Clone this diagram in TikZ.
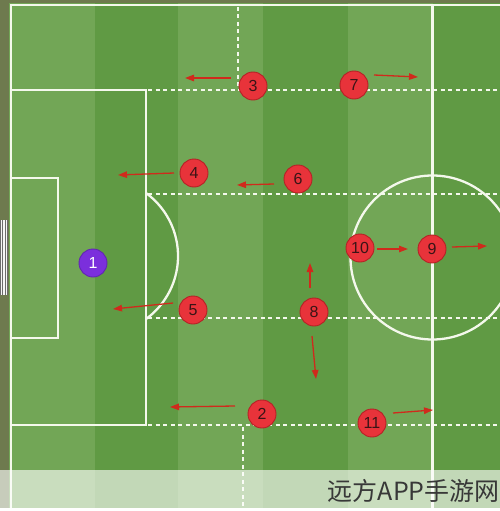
\documentclass[tikz,border=0pt]{standalone}
\usepackage{fontspec}
\setsansfont{Liberation Sans}
\newfontfamily\cjk{Noto Sans CJK SC}
\usetikzlibrary{arrows.meta}
\definecolor{olive}{HTML}{6E7A4E}
\definecolor{lightg}{HTML}{72A656}
\definecolor{darkg}{HTML}{609A44}
\definecolor{pred}{HTML}{E8333A}
\definecolor{pdark}{HTML}{B52226}
\definecolor{ptext}{HTML}{3A1416}
\definecolor{ppurple}{HTML}{7B2FDC}
\definecolor{arrred}{HTML}{D02A1C}
\definecolor{linew}{HTML}{F4F8EC}
\definecolor{wmgray}{HTML}{383838}
\tikzset{
  pitchline/.style={draw=linew, line width=2.3pt},
  dashline/.style={draw=linew, line width=1.4pt, dash pattern=on 4pt off 3.5pt},
  player/.style={circle, fill=pred, draw=pdark, line width=0.9pt, minimum size=28pt,
    inner sep=0pt, text=ptext, font=\sffamily\fontsize{16}{16}\selectfont},
  keeper/.style={player, fill=ppurple, draw=ppurple!80!black, text=white},
  run/.style={draw=arrred, line width=1.3pt, -{Triangle[length=9pt,width=6.5pt]}},
}
\begin{document}
\begin{tikzpicture}[x=1pt,y=-1pt]
\useasboundingbox (0,0) rectangle (500,511);
\clip (0,0) rectangle (500,511);
% grass stripes
\fill[lightg] (0,0) rectangle (500,511);
\fill[darkg] (95,0) rectangle (178,511);
\fill[darkg] (263,0) rectangle (348,511);
\fill[darkg] (433,0) rectangle (500,511);
% olive surround
\fill[olive] (0,0) rectangle (9,511);
\fill[olive] (0,0) rectangle (500,3);
% goal net
\fill[white!92!gray] (0,220) rectangle (8,295);
\draw[gray!85!black, line width=0.8pt, step=2.6] (0,220) grid (8,295);
% pitch markings
\draw[pitchline] (11,511) -- (11,5) -- (500,5);
\draw[pitchline] (432.5,5) -- (432.5,511);
\draw[pitchline] (11,90) -- (146,90) -- (146,425) -- (11,425);
\draw[pitchline] (11,178) -- (58,178) -- (58,338) -- (11,338);
\draw[pitchline] (146,193) arc[start angle=-53.9, end angle=53.9, radius=78];
\draw[pitchline] (432.5,257.5) circle[radius=82];
% dashed zone lines
\draw[dashline] (148,90) -- (500,90);
\draw[dashline] (238,7) -- (238,88);
\draw[dashline] (148,194) -- (500,194);
\draw[dashline] (148,318) -- (500,318);
\draw[dashline] (148,425) -- (500,425);
\draw[dashline] (243,427) -- (243,511);
% runs (coordinates)
\coordinate (t3) at (231,78);  \coordinate (h3) at (185,78);
\coordinate (t7) at (374,75);  \coordinate (h7) at (418,77);
\coordinate (t4) at (174,173); \coordinate (h4) at (118,175);
\coordinate (t6) at (274,184); \coordinate (h6) at (237,185);
\coordinate (t5) at (173,303); \coordinate (h5) at (113,309);
\coordinate (t10) at (377,249); \coordinate (h10) at (408,249);
\coordinate (t9) at (452,247); \coordinate (h9) at (487,246);
\coordinate (t8u) at (310,288); \coordinate (h8u) at (310,263);
\coordinate (t8d) at (312,336); \coordinate (h8d) at (316,379);
\coordinate (t2) at (235,406); \coordinate (h2) at (170,407);
\coordinate (t11) at (393,413); \coordinate (h11) at (433,410);
\foreach \r in {3,7,4,6,5,10,9,8u,8d,2,11} \draw[run] (t\r) -- (h\r);
% players
\node[keeper] (p1) at (93,263) {1};
\node[player] (p3) at (253,86) {3};
\node[player] (p7) at (354,85) {7};
\node[player] (p4) at (194,173) {4};
\node[player] (p6) at (298,179) {6};
\node[player] (p10) at (360,248) {10};
\node[player] (p9) at (432,249) {9};
\node[player] (p5) at (193,310) {5};
\node[player] (p8) at (314,312) {8};
\node[player] (p2) at (262,414) {2};
\node[player] (p11) at (372,423) {11};
% watermark band
\fill[white, opacity=0.62] (0,470) rectangle (500,511);
\fill[white] (0,508) rectangle (500,511);
\node[anchor=base east, inner sep=0pt, text=wmgray, font=\cjk\fontsize{25}{25}\selectfont] (wm) at (500,500) {远方APP手游网};
\end{tikzpicture}
\end{document}
